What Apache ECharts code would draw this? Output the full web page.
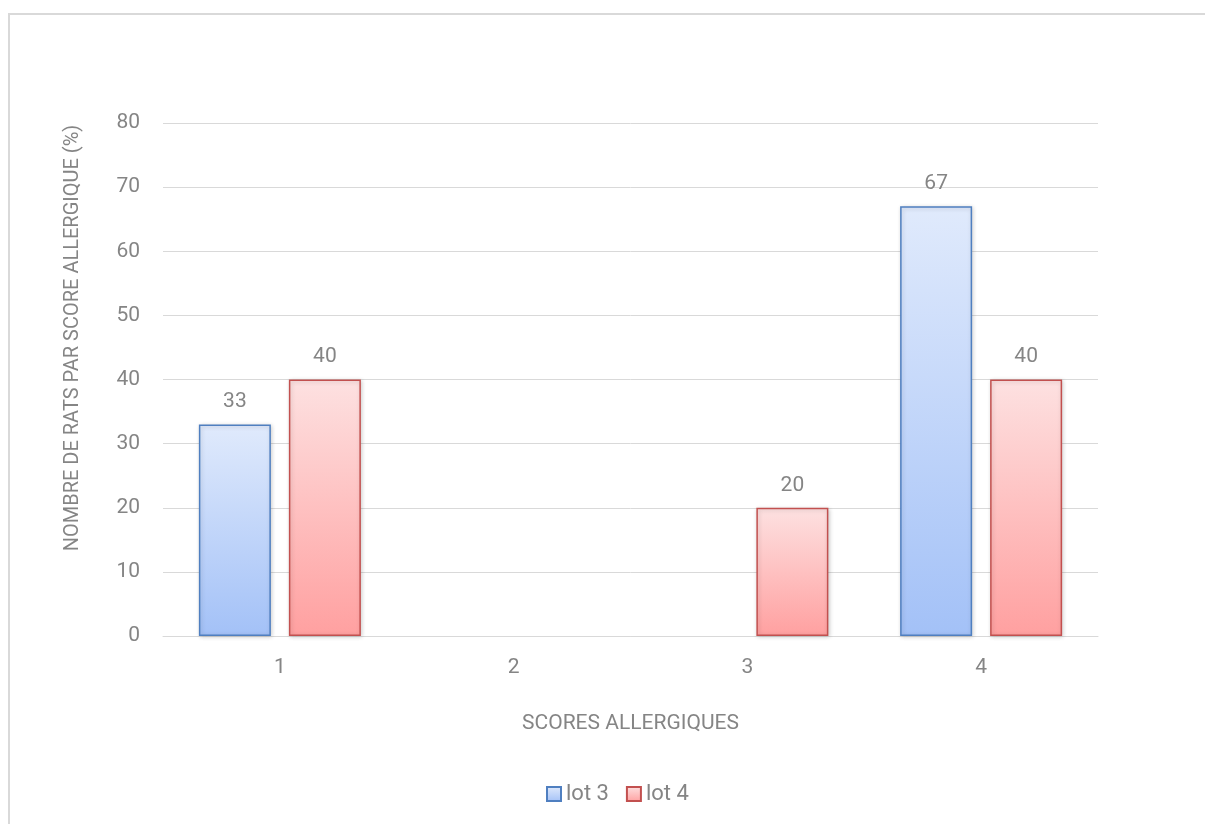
<!DOCTYPE html>
<html>
<head>
<meta charset="utf-8">
<script src="https://cdn.jsdelivr.net/npm/echarts@6/dist/echarts.min.js"></script>
<style>
  html, body { margin: 0; padding: 0; background: #ffffff; }
  #chart { width: 1205px; height: 824px; }
</style>
</head>
<body>
<div id="chart"></div>
<script>
// Allergic score distribution per group
const categories = ['1', '2', '3', '4'];
const lot3 = [33, null, null, 67];
const lot4 = [40, null, 20, 40];
const yTicks = { min: 0, max: 80, interval: 10 };

const FONT = 'Roboto, "Liberation Sans", Arial, sans-serif';
const FS = 21;
const GREY = '#858585';

function grad(top, bottom) {
  return new echarts.graphic.LinearGradient(0, 0, 0, 1, [
    { offset: 0, color: top },
    { offset: 1, color: bottom }
  ]);
}

function barSeries(name, data, top, bottom, border) {
  return {
    name: name,
    type: 'bar',
    data: data,
    barWidth: 72,
    barGap: '25%',
    itemStyle: {
      color: grad(top, bottom),
      borderColor: border,
      borderWidth: 1.5,
      shadowColor: 'rgba(0,0,0,0.18)',
      shadowBlur: 4,
      shadowOffsetX: 1,
      shadowOffsetY: 1
    },
    label: {
      show: true,
      position: 'top',
      distance: 12,
      color: GREY,
      fontFamily: FONT,
      fontSize: FS
    }
  };
}

const chart = echarts.init(document.getElementById('chart'), null, { renderer: 'canvas' });
chart.setOption({
  animation: false,
  backgroundColor: '#ffffff',
  graphic: [
    {
      type: 'rect',
      shape: { x: 9, y: 14, width: 1400, height: 1000 },
      style: { fill: 'none', stroke: '#d9d9d9', lineWidth: 2 },
      silent: true
    },
    {
      type: 'text',
      x: 73,
      y: 338,
      rotation: Math.PI / 2,
      style: {
        text: 'NOMBRE DE RATS PAR SCORE ALLERGIQUE (%)',
        fill: GREY,
        font: '20px ' + FONT,
        align: 'center',
        verticalAlign: 'middle'
      }
    }
  ],
  grid: { left: 163, right: 107, top: 123, bottom: 188 },
  legend: {
    bottom: 14,
    left: 541,
    itemWidth: 14,
    itemHeight: 14,
    itemGap: 17,
    icon: 'rect',
    textStyle: { color: GREY, fontFamily: FONT, fontSize: 22 },
    data: ['lot 3', 'lot 4']
  },
  xAxis: {
    type: 'category',
    data: categories,
    name: 'SCORES ALLERGIQUES',
    nameLocation: 'middle',
    nameGap: 77,
    nameTextStyle: { color: GREY, fontFamily: FONT, fontSize: FS },
    axisLine: { lineStyle: { color: '#d9d9d9', width: 1 } },
    axisTick: { show: false },
    axisLabel: { color: GREY, fontFamily: FONT, fontSize: FS, margin: 21 }
  },
  yAxis: {
    type: 'value',
    min: yTicks.min,
    max: yTicks.max,
    interval: yTicks.interval,
    axisLine: { show: false },
    axisTick: { show: false },
    axisLabel: { color: GREY, fontFamily: FONT, fontSize: FS, margin: 23 },
    splitLine: { lineStyle: { color: '#d9d9d9', width: 1 } }
  },
  series: [
    barSeries('lot 3', lot3, '#e0eafc', '#a3c1f7', '#4f7fc0'),
    barSeries('lot 4', lot4, '#fde1e1', '#ffa0a0', '#c2504f')
  ]
});
</script>
</body>
</html>
